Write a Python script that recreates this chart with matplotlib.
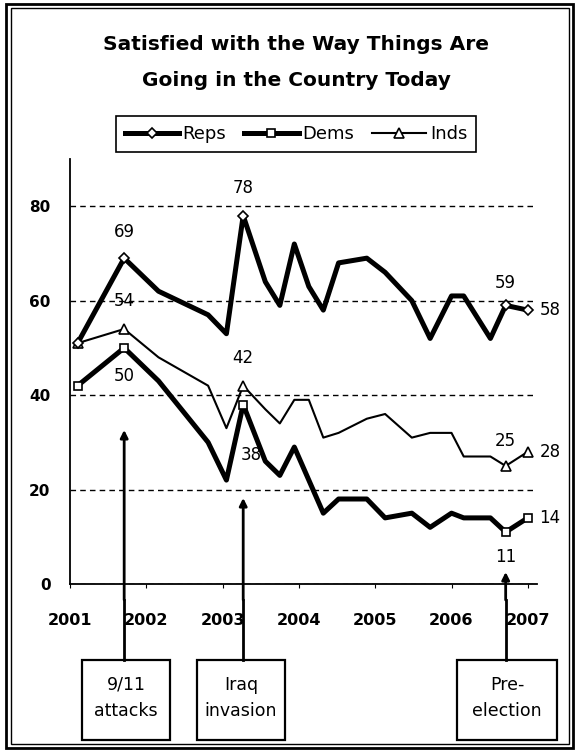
import matplotlib.pyplot as plt
from matplotlib.patches import Rectangle

# survey dates (fractional year) and % satisfied
dates = [2001.10, 2001.71, 2002.16, 2002.81, 2003.05, 2003.27, 2003.56, 2003.75,
         2003.94, 2004.13, 2004.32, 2004.52, 2004.89, 2005.13, 2005.48, 2005.72,
         2006.00, 2006.16, 2006.51, 2006.71, 2007.00]
reps = [51, 69, 62, 57, 53, 78, 64, 59, 72, 63, 58, 68, 69, 66, 60, 52, 61, 61, 52, 59, 58]
dems = [42, 50, 43, 30, 22, 38, 26, 23, 29, 22, 15, 18, 18, 14, 15, 12, 15, 14, 14, 11, 14]
inds = [51, 54, 48, 42, 33, 42, 37, 34, 39, 39, 31, 32, 35, 36, 31, 32, 32, 27, 27, 25, 28]
marked = [0, 1, 5, 19, 20]

years = [2001, 2002, 2003, 2004, 2005, 2006, 2007]
yticks = [0, 20, 40, 60, 80]

# labelled points: (series, index, dx, dy) offsets in points
labels = [
    (reps, 1, 0, 19), (inds, 1, 0, 20), (dems, 1, 0, -20),
    (reps, 5, 0, 20), (inds, 5, 0, 20), (dems, 5, 6, -36),
    (reps, 19, 0, 16), (reps, 20, 16, 0),
    (inds, 19, 0, 18), (inds, 20, 16, 0),
    (dems, 19, 0, -18), (dems, 20, 16, 0),
]

events = [(2001.71, 430, "9/11\nattacks", 82, 170),
          (2003.27, 498, "Iraq\ninvasion", 197, 285),
          (2006.71, 572, "Pre-\nelection", 457, 557)]

W, H = 577, 752
fig = plt.figure(figsize=(W / 100, H / 100), dpi=100)
plt.rcParams["font.family"] = "DejaVu Sans"

ax = fig.add_axes([70 / W, 1 - 584 / H, 467 / W, 425 / H])
ax.set_xlim(2001, 2001 + 467 / 76.3)
ax.set_ylim(0, 90)

ax.plot(dates, reps, color="black", lw=3.6, marker="D", ms=5, mfc="white",
        mec="black", mew=1.2, markevery=marked, label="Reps", zorder=4)
ax.plot(dates, dems, color="black", lw=3.6, marker="s", ms=6, mfc="white",
        mec="black", mew=1.2, markevery=marked, label="Dems", zorder=4)
ax.plot(dates, inds, color="black", lw=1.5, marker="^", ms=7, mfc="white",
        mec="black", mew=1.2, markevery=marked, label="Inds", zorder=3)

for series, i, dx, dy in labels:
    ax.annotate(str(series[i]), (dates[i], series[i]), xytext=(dx, dy),
                textcoords="offset points", ha="center", va="center",
                fontsize=12, zorder=5)

for spine in ["top", "right"]:
    ax.spines[spine].set_visible(False)
ax.spines["left"].set_linewidth(1.3)
ax.spines["bottom"].set_linewidth(1.3)

ax.set_yticks(yticks)
ax.set_xticks(years)
ax.tick_params(axis="y", length=0, pad=14, labelsize=11)
ax.tick_params(axis="x", length=3, pad=18, labelsize=11.5)
for t in ax.get_xticklabels() + ax.get_yticklabels():
    t.set_fontweight("bold")
ax.grid(axis="y", color="black", ls=(0, (4, 3)), lw=1)
ax.set_axisbelow(True)

# title and legend
fig.text(296 / W, 1 - 44 / H, "Satisfied with the Way Things Are",
         ha="center", va="center", fontsize=14.5, fontweight="bold")
fig.text(296 / W, 1 - 81 / H, "Going in the Country Today",
         ha="center", va="center", fontsize=14.5, fontweight="bold")
fig.legend(loc="center", bbox_to_anchor=(296 / W, 1 - 134 / H), ncol=3,
           fontsize=13, frameon=True, fancybox=False, edgecolor="black",
           framealpha=1, handlelength=3.0, handletextpad=0.2,
           columnspacing=1.0, borderpad=0.5)
fig.legends[0].get_frame().set_linewidth(1.2)

# event boxes with arrows
for x, tip, text, x0, x1 in events:
    px = ax.transData.transform((x, 0))[0]
    fig.add_artist(plt.Line2D([px / W, px / W], [1 - 660 / H, 1 - 600 / H],
                              color="black", lw=2))
    ax.annotate("", xy=(x, (584 - tip) / 4.72), xycoords="data",
                xytext=(px / W, 1 - 600 / H), textcoords="figure fraction",
                arrowprops=dict(arrowstyle="-|>", color="black", lw=2,
                                mutation_scale=11, shrinkA=0, shrinkB=0),
                annotation_clip=False, zorder=6)
    fig.add_artist(Rectangle((x0 / W, 1 - 740 / H), (x1 - x0) / W, 80 / H,
                             transform=fig.transFigure, fill=False,
                             ec="black", lw=1.6))
    fig.text((x0 + x1) / 2 / W, 1 - 698 / H, text, ha="center", va="center",
             fontsize=12.5, linespacing=1.6)

# outer frame
fig.add_artist(Rectangle((6 / W, 4 / H), 567 / W, 744 / H,
                         transform=fig.transFigure, fill=False, ec="black", lw=2))
fig.add_artist(Rectangle((11 / W, 8 / H), 558 / W, 736 / H,
                         transform=fig.transFigure, fill=False, ec="black", lw=1))

fig.savefig("out.png", dpi=100)
